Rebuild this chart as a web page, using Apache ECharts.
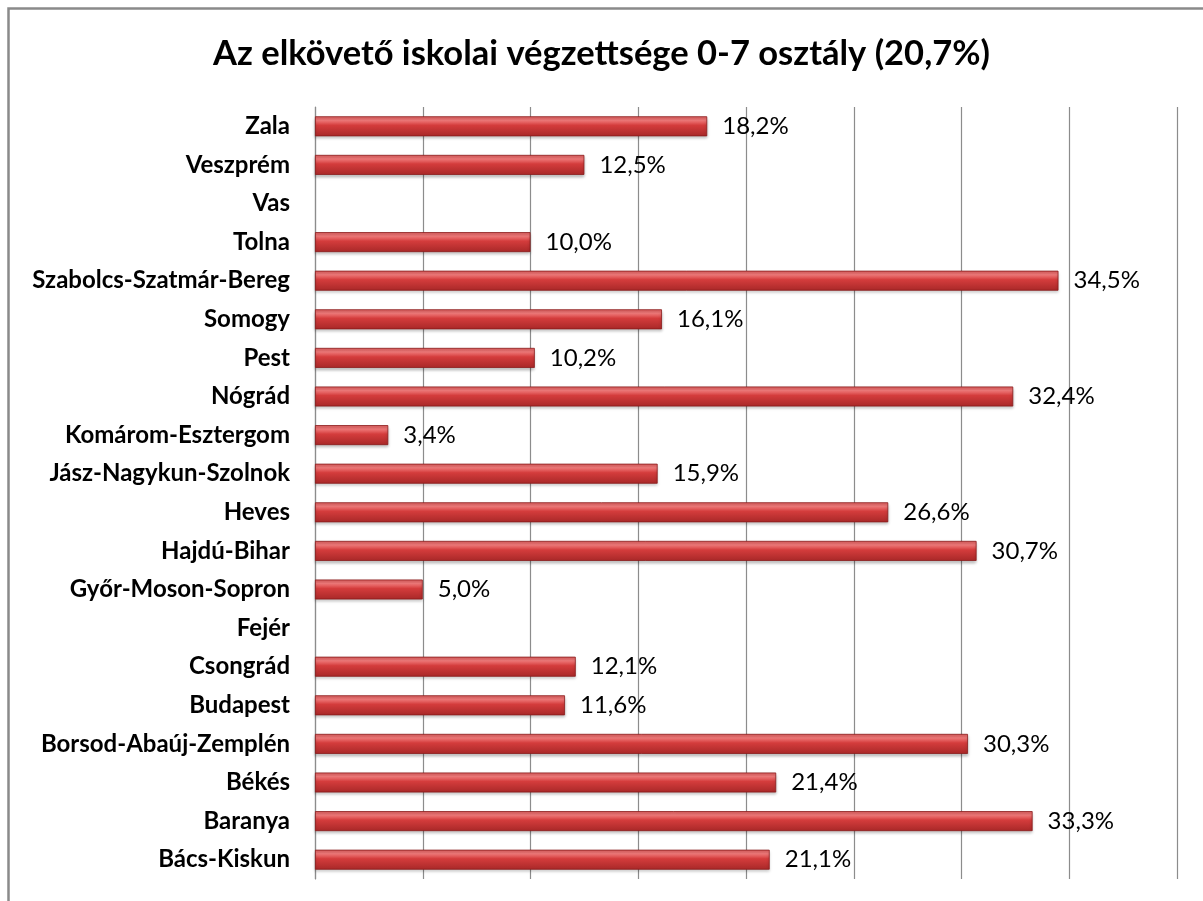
<!DOCTYPE html>
<html><head><meta charset="utf-8">
<script src="https://cdn.jsdelivr.net/npm/echarts@6/dist/echarts.min.js"></script>
<style>html,body{margin:0;padding:0;background:#fff}#c{width:1203px;height:901px}</style>
</head><body><div id="c"></div>
<script>
const categories = ['Bács-Kiskun','Baranya','Békés','Borsod-Abaúj-Zemplén','Budapest','Csongrád','Fejér','Győr-Moson-Sopron','Hajdú-Bihar','Heves','Jász-Nagykun-Szolnok','Komárom-Esztergom','Nógrád','Pest','Somogy','Szabolcs-Szatmár-Bereg','Tolna','Vas','Veszprém','Zala'];
const values = [21.1,33.3,21.4,30.3,11.6,12.1,null,5.0,30.7,26.6,15.9,3.4,32.4,10.2,16.1,34.5,10.0,null,12.5,18.2];
const titleText = 'Az elkövető iskolai végzettsége 0-7 osztály (20,7%)';

const chart = echarts.init(document.getElementById('c'));
chart.setOption({
  animation:false,
  title:{text:titleText,left:'center',top:31,textStyle:{fontFamily:'Lato',fontWeight:'bold',fontSize:34.5,color:'#000'}},
  graphic:[{type:'rect',shape:{x:8.5,y:8.5,width:1400,height:1100},style:{fill:'none',stroke:'#8a8a8a',lineWidth:2.5}}],
  grid:{left:315,right:26,top:107,bottom:22,containLabel:false},
  xAxis:{type:'value',min:0,max:40,interval:5,axisLabel:{show:false},axisTick:{show:false},axisLine:{show:false},
    splitLine:{show:true,lineStyle:{color:'#8c8c8c',width:1.2}}},
  yAxis:{type:'category',data:categories,axisTick:{show:false},
    axisLine:{show:true,lineStyle:{color:'#8c8c8c',width:1.2}},
    axisLabel:{fontFamily:'Lato',fontWeight:'bold',fontSize:24,color:'#000',margin:25}},
  series:[{type:'bar',data:values,barWidth:20,
    itemStyle:{color:new echarts.graphic.LinearGradient(0,0,0,1,[
      {offset:0,color:'#d85a5a'},{offset:0.2,color:'#f07a7a'},{offset:0.45,color:'#d43c3c'},{offset:1,color:'#a82828'}]),
      borderColor:'#8a1c1c',borderWidth:0.8,shadowColor:'rgba(0,0,0,0.25)',shadowBlur:3,shadowOffsetY:2},
    label:{show:true,position:'right',distance:15,fontFamily:'Lato',fontSize:24,color:'#000',
      formatter:p=>p.value==null?'':p.value.toFixed(1).replace('.',',')+'%'}}]
});
</script></body></html>
